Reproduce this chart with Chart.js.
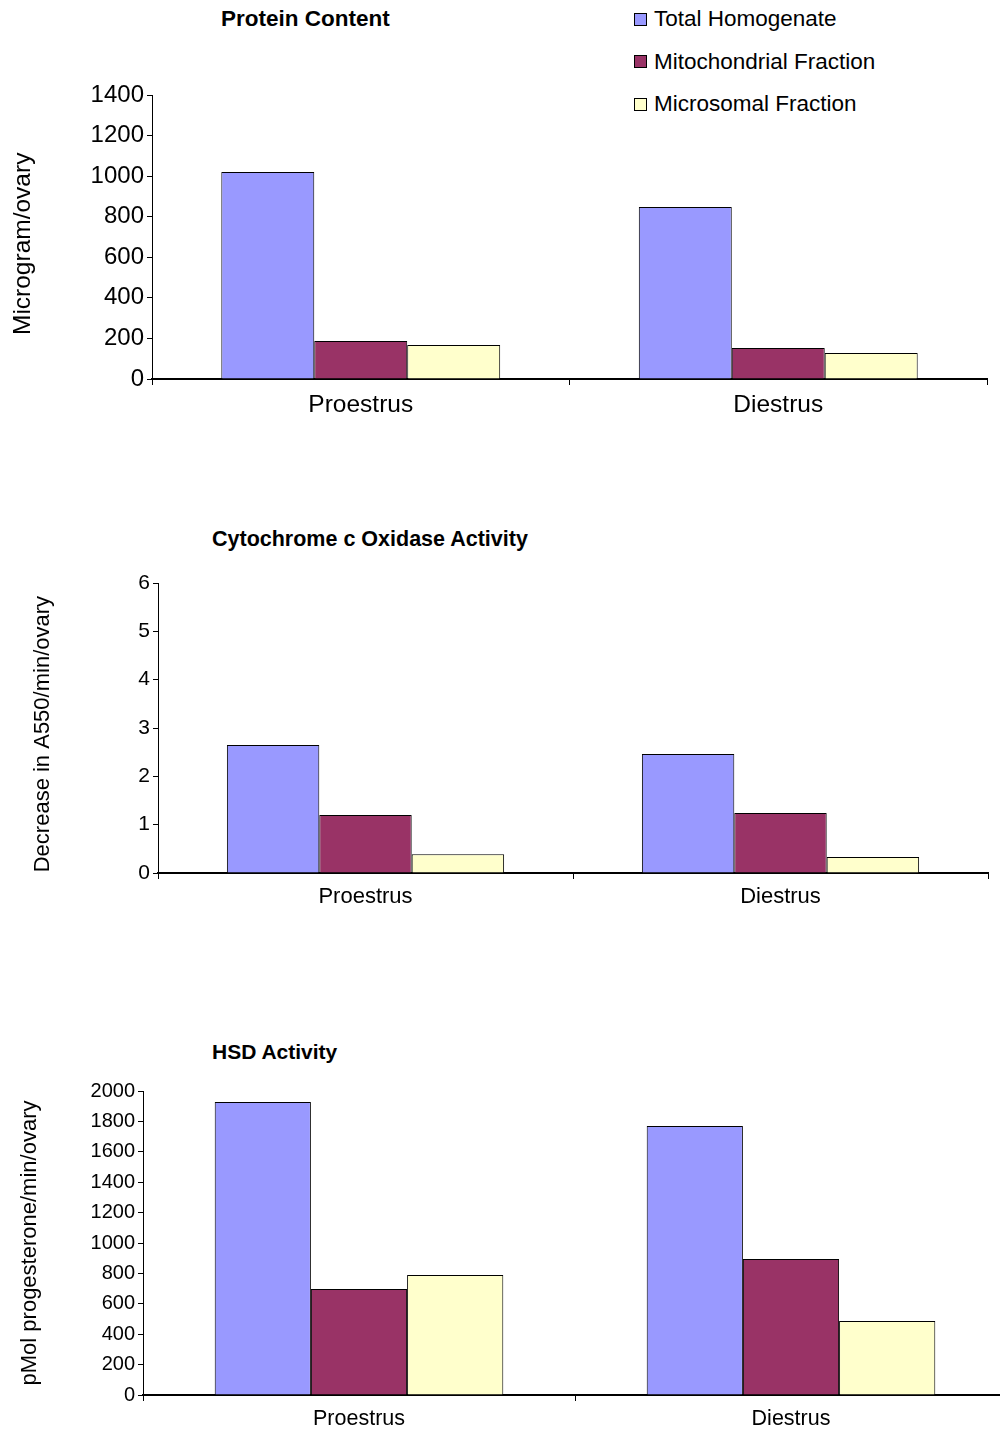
<!DOCTYPE html>
<html>
<head>
<meta charset="utf-8">
<script src="https://cdn.jsdelivr.net/npm/chart.js@4.4.1/dist/chart.umd.min.js"></script>
<style>
  html, body { margin: 0; padding: 0; background: #fff; overflow: hidden; }
  body { width: 1000px; height: 1429px; position: relative; font-family: "Liberation Sans", Arial, sans-serif; }
  canvas { position: absolute; left: 0; }
  .title { position: absolute; font-weight: bold; color: #000; white-space: nowrap; }
  #legend { position: absolute; left: 634px; top: -2px; font-size: 22.5px; color: #000; }
  #legend .row { height: 42.5px; display: flex; align-items: center; white-space: nowrap; }
  #legend .box { width: 11px; height: 11px; border: 1px solid #000; margin-right: 7px; }
</style>
</head>
<body>
<div class="title" style="left:221px; top:6px; font-size:22.5px;">Protein Content</div>
<div id="legend"></div>
<canvas id="protein" width="1000" height="430" style="top:0px"></canvas>

<div class="title" style="left:212px; top:527px; font-size:21.5px;">Cytochrome c Oxidase Activity</div>
<canvas id="cox" width="1000" height="480" style="top:440px"></canvas>

<div class="title" style="left:212px; top:1040px; font-size:21px;">HSD Activity</div>
<canvas id="hsd" width="1010" height="489" style="top:940px"></canvas>

<script>
// ---------------- Data ----------------
const categories = ["Proestrus", "Diestrus"];
const seriesNames = ["Total Homogenate", "Mitochondrial Fraction", "Microsomal Fraction"];
const seriesColors = ["#9999FF", "#993366", "#FFFFCC"];

const proteinTotal = [1020, 848];
const proteinMito = [187, 153];
const proteinMicro = [168, 128];

const coxTotal = [2.65, 2.46];
const coxMito = [1.2, 1.24];
const coxMicro = [0.39, 0.33];

const hsdTotal = [1928, 1770];
const hsdMito = [697, 895];
const hsdMicro = [789, 487];

const FONT = '"Liberation Sans", Arial, sans-serif';

// ---------------- Legend ----------------
document.getElementById("legend").innerHTML = seriesNames
  .map(
    (name, i) => `
    <div class="row"><span class="box" style="background:${seriesColors[i]}"></span>${name}</div>`
  )
  .join("");

// ---------------- Chart helper ----------------
function makeChart(id, values, cfg) {
  return new Chart(document.getElementById(id), {
    type: "bar",
    data: {
      labels: categories,
      datasets: values.map((data, i) => ({
        label: seriesNames[i],
        data: data,
        backgroundColor: seriesColors[i],
        borderColor: "#000",
        borderWidth: 1,
        borderSkipped: "bottom",
        categoryPercentage: 0.668,
        barPercentage: 1,
      })),
    },
    options: {
      responsive: false,
      animation: false,
      layout: { padding: { top: cfg.top, right: cfg.right, bottom: 0, left: 0 } },
      plugins: { legend: { display: false }, tooltip: { enabled: false } },
      scales: {
        x: {
          offset: true,
          grid: { offset: true, drawOnChartArea: false, tickLength: 6, color: "#000", lineWidth: 1 },
          border: { color: "#000", width: 2 },
          ticks: { color: "#000", font: { family: FONT, size: cfg.xFont }, padding: cfg.xPad },
          afterFit: (s) => { s.height = cfg.xHeight; },
        },
        y: {
          min: 0,
          max: cfg.max,
          grid: { drawOnChartArea: false, tickLength: 5, color: "#000", lineWidth: 1 },
          border: { color: "#000", width: 1 },
          ticks: {
            stepSize: cfg.step,
            color: "#000",
            font: { family: FONT, size: cfg.yFont },
            padding: 3,
            callback: (v) => String(v),
          },
          title: {
            display: true,
            text: cfg.yTitle,
            color: "#000",
            font: { family: FONT, size: cfg.titleFont },
            padding: { top: cfg.titlePad, bottom: 0 },
          },
          afterFit: (s) => { s.width = cfg.yWidth; },
        },
      },
    },
  });
}

// ---------------- Charts ----------------
// trailing spaces nudge the rotated axis titles down a little
makeChart("protein", [proteinTotal, proteinMito, proteinMicro], {
  top: 95, right: 13, xHeight: 51, yWidth: 152, max: 1400, step: 200,
  xFont: 24.5, xPad: 6, yFont: 24, titleFont: 24.5, titlePad: 9, yTitle: "Microgram/ovary  ",
});

makeChart("cox", [coxTotal, coxMito, coxMicro], {
  top: 143, right: 12, xHeight: 47, yWidth: 158, max: 6, step: 1,
  xFont: 22, xPad: 5, yFont: 21, titleFont: 22, titlePad: 30, yTitle: "Decrease in A550/min/ovary  ",
});

makeChart("hsd", [hsdTotal, hsdMito, hsdMicro], {
  top: 151, right: 3, xHeight: 34, yWidth: 143, max: 2000, step: 200,
  xFont: 21.5, xPad: 5, yFont: 20, titleFont: 22, titlePad: 17, yTitle: "pMol progesterone/min/ovary",
});
</script>
</body>
</html>
